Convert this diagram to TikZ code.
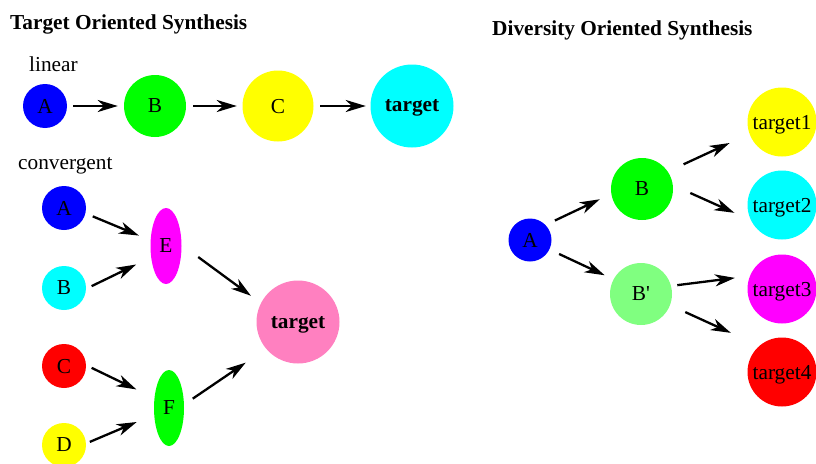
\documentclass[tikz,border=0pt]{standalone}
\usepackage{fontspec}
\setmainfont{Liberation Serif}
\usetikzlibrary{arrows.meta,shapes.geometric}
\definecolor{cblue}{HTML}{0000FF}
\definecolor{cgreen}{HTML}{00FF00}
\definecolor{cyellow}{HTML}{FFFF00}
\definecolor{ccyan}{HTML}{00FFFF}
\definecolor{cmagenta}{HTML}{FF00FF}
\definecolor{cred}{HTML}{FF0000}
\definecolor{cpink}{HTML}{FF80C0}
\definecolor{clgreen}{HTML}{80FF80}
\begin{document}
\begin{tikzpicture}[x=1pt,y=-1pt,
  every node/.style={font=\fontsize{21.3}{25}\selectfont},
  ball/.style={circle,inner sep=0pt,text depth=0pt,minimum size=#1},
  oval/.style={ellipse,inner sep=0pt,text depth=0pt,minimum width=31pt,minimum height=76pt},
  arr/.style={line width=2.3pt,-{Stealth[length=20pt,width=12pt,inset=6pt]}},
  lbl/.style={anchor=base west,inner sep=0pt},
  ttl/.style={anchor=base west,inner sep=0pt,font=\fontsize{21.3}{25}\selectfont\bfseries}]
\clip (0,0) rectangle (816,463);
\fill[white] (0,0) rectangle (816,463);
% titles
\node[ttl] (tos) at (10,29.5) {Target Oriented Synthesis};
\node[ttl] (dos) at (492,35.5) {Diversity Oriented Synthesis};
\node[lbl] (lin) at (29,71) {linear};
\node[lbl] (conv) at (18,169) {convergent};
% linear
\node[ball=44pt,fill=cblue] (lA) at (45,106) {A};
\node[ball=62pt,fill=cgreen] (lB) at (155,106) {B};
\node[ball=71pt,fill=cyellow] (lC) at (278,106) {C};
\node[ball=83pt,fill=ccyan,font=\fontsize{21.3}{25}\selectfont\bfseries] (lT) at (412,106) {target};
\draw[arr,shorten <=6pt,shorten >=6pt] (lA) -- (lB);
\draw[arr,shorten <=7pt,shorten >=5.5pt] (lB) -- (lC);
\draw[arr,shorten <=6.5pt,shorten >=4.5pt] (lC) -- (lT);
% convergent
\node[ball=44pt,fill=cblue] (cA) at (64,208) {A};
\node[ball=44pt,fill=ccyan] (cB) at (64,288) {B};
\node[ball=44pt,fill=cred] (cC) at (64,366) {C};
\node[ball=44pt,fill=cyellow] (cD) at (64,445) {D};
\node[oval,fill=cmagenta] (cE) at (166,246) {E};
\node[oval,minimum width=30pt,fill=cgreen] (cF) at (169,408) {F};
\node[ball=83pt,fill=cpink,font=\fontsize{21.3}{25}\selectfont\bfseries] (cT) at (298,322) {target};
\draw[arr,shorten <=7.8pt,shorten >=12.5pt] (cA.-14) -- (cE.160);
\draw[arr,shorten <=6pt,shorten >=16.5pt] (cB.-2) -- (cE.217);
\draw[arr,shorten <=20.5pt,shorten >=12.3pt] (cE.4) -- (cT.153);
\draw[arr,shorten <=6pt,shorten >=19.9pt] (cC.2) -- (cF.146);
\draw[arr,shorten <=4pt,shorten >=18.8pt] (cD.4) -- (cF.204);
\draw[arr,shorten <=10.4pt,shorten >=24.6pt] (cF.13) -- (cT.220);
% diversity
\node[ball=43pt,fill=cblue] (dA) at (530,240) {A};
\node[ball=62pt,fill=cgreen] (dB) at (642,189) {B};
\node[ball=62pt,fill=clgreen] (dB2) at (641,294) {B\textquotesingle};
\node[ball=69pt,fill=cyellow] (t1) at (782,122) {target1};
\node[ball=69pt,fill=ccyan] (t2) at (782,205) {target2};
\node[ball=69pt,fill=cmagenta] (t3) at (782,289) {target3};
\node[ball=69pt,fill=cred] (t4) at (782,372) {target4};
\draw[arr,shorten <=10.3pt,shorten >=12.6pt] (dA.44) -- (dB.189);
\draw[arr,shorten <=10.6pt,shorten >=9.7pt] (dA.-26) -- (dB2.152);
\draw[arr,shorten <=17.3pt,shorten >=21.8pt] (dB.34) -- (t1.200);
\draw[arr,shorten <=19pt,shorten >=18pt] (dB.7) -- (t2.206);
\draw[arr,shorten <=6.2pt,shorten >=15pt] (dB2.15) -- (t3.158);
\draw[arr,shorten <=16.6pt,shorten >=31.2pt] (dB2.-21) -- (t4.131);
\end{tikzpicture}
\end{document}
